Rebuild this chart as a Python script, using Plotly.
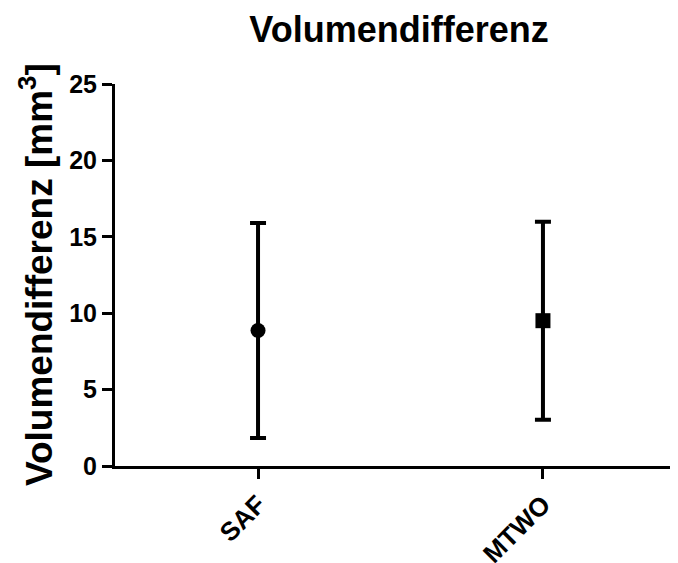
import plotly.graph_objects as go

categories = ["SAF", "MTWO"]
means = [8.87, 9.51]
errors = [7.03, 6.48]
symbols = ["circle", "square"]
y_ticks = [0, 5, 10, 15, 20, 25]

FONT = "Liberation Sans, Arial, sans-serif"

fig = go.Figure()
for i, cat in enumerate(categories):
    fig.add_trace(go.Scatter(
        x=[i], y=[means[i]], mode="markers",
        marker=dict(symbol=symbols[i], size=15, color="black"),
        error_y=dict(type="data", array=[errors[i]], visible=True,
                     thickness=4, width=8, color="black"),
        showlegend=False,
    ))

fig.update_layout(
    width=670, height=555,
    plot_bgcolor="white", paper_bgcolor="white",
    margin=dict(l=107, r=0, t=76, b=97),
    title=dict(text="<b>Volumendifferenz</b>", x=0.5836, xanchor="center",
               y=0.962, yanchor="middle",
               font=dict(family=FONT, size=36, color="black")),
    font=dict(family=FONT, color="black"),
    annotations=[dict(
        text="<b>Volumendifferenz [mm<sup>3</sup>]</b>",
        xref="paper", yref="paper", x=-79 / 563, y=0.5,
        xanchor="center", yanchor="middle", textangle=-90, showarrow=False,
        font=dict(family=FONT, size=37, color="black"),
    )],
)
fig.update_xaxes(
    range=[-0.502, 1.474], tickmode="array", tickvals=[0, 1],
    ticktext=["<b>%s</b>" % c for c in categories], tickangle=-45,
    showline=True, linewidth=3, linecolor="black", ticks="outside",
    ticklen=10, tickwidth=3, tickcolor="black", showgrid=False, zeroline=False,
    tickfont=dict(family=FONT, size=26, color="black"), automargin=False,
)
fig.update_yaxes(
    range=[0, 25], tickmode="array", tickvals=y_ticks,
    ticktext=["<b>%d</b>" % v for v in y_ticks],
    showline=True, linewidth=3, linecolor="black", ticks="outside",
    ticklen=10, tickwidth=3, tickcolor="black", showgrid=False, zeroline=False,
    tickfont=dict(family=FONT, size=25, color="black"), automargin=False,
)

fig.write_html("out.html")
